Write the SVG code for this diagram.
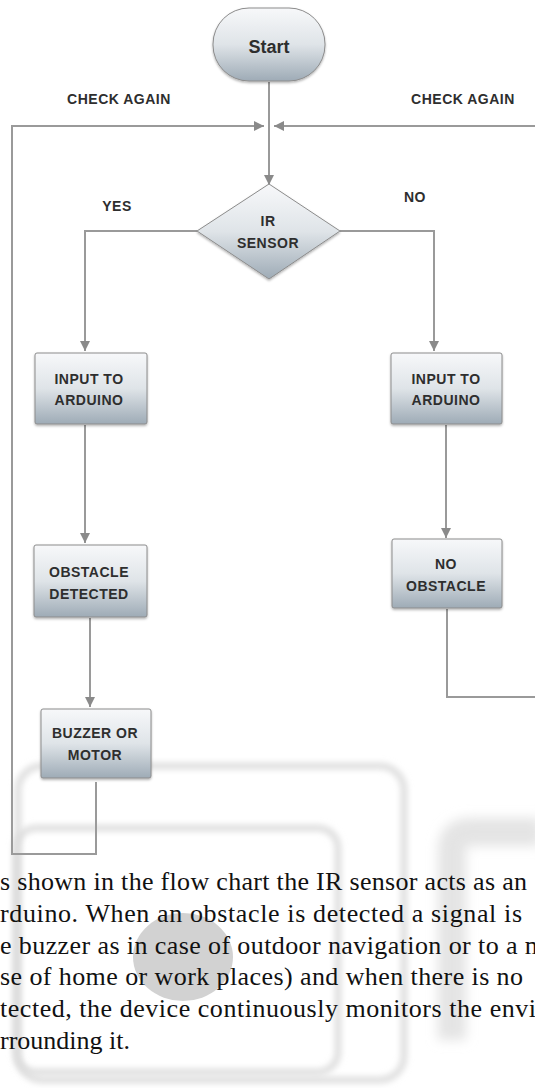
<svg xmlns="http://www.w3.org/2000/svg" width="535" height="1088" viewBox="0 0 535 1088">
<defs>
<linearGradient id="g" x1="0" y1="0" x2="0" y2="1">
<stop offset="0" stop-color="#f7f8fa"/>
<stop offset="0.5" stop-color="#dfe4e8"/>
<stop offset="1" stop-color="#9eabb6"/>
</linearGradient>
<filter id="sh" x="-10%" y="-10%" width="130%" height="140%">
<feDropShadow dx="0" dy="1.5" stdDeviation="1" flood-color="#000" flood-opacity="0.3"/>
</filter>
<filter id="blur" x="-20%" y="-20%" width="140%" height="140%">
<feGaussianBlur stdDeviation="3"/>
</filter>
<filter id="blur2" x="-30%" y="-30%" width="160%" height="160%">
<feGaussianBlur stdDeviation="6"/>
</filter>
<marker id="ah" markerUnits="userSpaceOnUse" markerWidth="10" markerHeight="10" refX="10" refY="5" orient="auto">
<path d="M0,0 L10,5 L0,10 z" fill="#8a8a8a"/>
</marker>
<style>
.node{fill:url(#g);stroke:#8c8c8c;stroke-width:1;filter:url(#sh)}
.lbl{font-family:"Liberation Sans",Arial,sans-serif;font-weight:bold;font-size:14px;fill:#2e2e2e;text-anchor:middle;letter-spacing:0.5px}
.edge{fill:none;stroke:#9a9a9a;stroke-width:2}
.para{font-family:"Liberation Serif","Times New Roman",serif;font-size:26px;fill:#111}
.wm{fill:none;stroke:#dadada;stroke-width:6}
</style>
</defs>
<rect width="535" height="1088" fill="#ffffff"/>
<g id="watermark">
<rect class="wm" x="18" y="766" width="386" height="314" rx="24" filter="url(#blur)"/>
<rect class="wm" x="16" y="828" width="322" height="244" rx="20" filter="url(#blur)"/>
<ellipse cx="183" cy="957" rx="50" ry="44" fill="#d2d2d2"/>
<path d="M452,1040 V850 Q452,832 470,832 H540" fill="none" stroke="#e4e4e4" stroke-width="28" filter="url(#blur2)"/>
<path d="M460,1038 H540" fill="none" stroke="#ededed" stroke-width="14" filter="url(#blur2)"/>
</g>
<g id="connectors">
<path class="edge" d="M269,82 V185" marker-end="url(#ah)"/>
<path class="edge" d="M96,782 V854 H12 V126 H264" marker-end="url(#ah)"/>
<path class="edge" d="M447,609 V697 H545 V126 H274" marker-end="url(#ah)"/>
<path class="edge" d="M197,231 H85 V351" marker-end="url(#ah)"/>
<path class="edge" d="M340,231 H434 V351" marker-end="url(#ah)"/>
<path class="edge" d="M85,425 V543" marker-end="url(#ah)"/>
<path class="edge" d="M90,618 V707" marker-end="url(#ah)"/>
<path class="edge" d="M446,425 V538" marker-end="url(#ah)"/>
<text class="lbl" x="119" y="104">CHECK AGAIN</text>
<text class="lbl" x="463" y="104">CHECK AGAIN</text>
<text class="lbl" x="117" y="211">YES</text>
<text class="lbl" x="415" y="202">NO</text>
</g>
<g id="start">
<rect class="node" x="213" y="8" width="112" height="73" rx="36"/>
<text class="lbl" x="269" y="53" style="font-size:18px;letter-spacing:0">Start</text>
</g>
<g id="ir-sensor">
<path class="node" d="M269,184 L340,231 L269,279 L197,231 Z"/>
<text class="lbl" x="268" y="226">IR</text>
<text class="lbl" x="268" y="248">SENSOR</text>
</g>
<g id="input-left">
<rect class="node" x="35" y="353" width="112" height="71" rx="2"/>
<text class="lbl" x="89" y="384">INPUT TO</text>
<text class="lbl" x="89" y="405">ARDUINO</text>
</g>
<g id="input-right">
<rect class="node" x="391" y="353" width="111" height="71" rx="2"/>
<text class="lbl" x="446" y="384">INPUT TO</text>
<text class="lbl" x="446" y="405">ARDUINO</text>
</g>
<g id="obstacle-detected">
<rect class="node" x="34" y="545" width="113" height="72" rx="2"/>
<text class="lbl" x="89" y="577">OBSTACLE</text>
<text class="lbl" x="89" y="599">DETECTED</text>
</g>
<g id="no-obstacle">
<rect class="node" x="392" y="539" width="110" height="69" rx="2"/>
<text class="lbl" x="446" y="569">NO</text>
<text class="lbl" x="446" y="591">OBSTACLE</text>
</g>
<g id="buzzer">
<rect class="node" x="41" y="709" width="110" height="69" rx="2"/>
<text class="lbl" x="95" y="738">BUZZER OR</text>
<text class="lbl" x="95" y="760">MOTOR</text>
</g>
<g id="paragraph">
<text class="para" x="0" y="890" textLength="527" lengthAdjust="spacing">s shown in the flow chart the IR sensor acts as an</text>
<text class="para" x="0" y="922" textLength="522" lengthAdjust="spacing">rduino. When an obstacle is detected a signal is</text>
<text class="para" x="0" y="954" textLength="545" lengthAdjust="spacing">e buzzer as in case of outdoor navigation or to a m</text>
<text class="para" x="0" y="985" textLength="523" lengthAdjust="spacing">se of home or work places) and when there is no</text>
<text class="para" x="0" y="1017" textLength="536" lengthAdjust="spacing">tected, the device continuously monitors the envi</text>
<text class="para" x="0" y="1049">rrounding it.</text>
</g>
</svg>
